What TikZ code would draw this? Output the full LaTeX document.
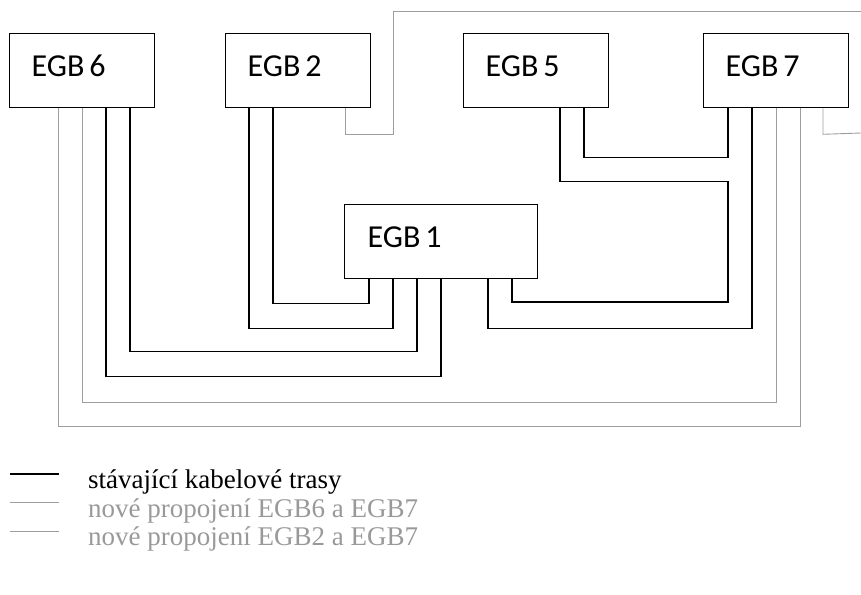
\documentclass[tikz,border=0pt]{standalone}
\usepackage{fontspec}
\setmainfont{Liberation Serif}
\newfontfamily\boxfont{Carlito}
\newcommand\egbfont{\boxfont\fontsize{32}{36}\selectfont}
\newcommand\egbtight{\spaceskip=5pt\relax}
\definecolor{newline}{gray}{0.62}
\definecolor{newtext}{gray}{0.6}
\tikzset{
  egbbox/.style={draw, line width=1.3pt, anchor=north west, minimum height=74pt,
    inner ysep=0pt, inner xsep=22pt, align=left, font=\egbfont,
    text height=21pt, text depth=10pt},
  oldcable/.style={draw, line width=1.3pt},
  newcable/.style={draw=newline, line width=0.9pt},
  legtext/.style={anchor=base west, inner sep=0pt, font=\fontsize{27}{30}\selectfont},
}
\begin{document}
\begin{tikzpicture}[x=1pt,y=-1pt]
\useasboundingbox (0,0) rectangle (861,594);
% boxes
\node[egbbox, text width=101pt] (e6) at (9,33) {\egbtight EGB 6};
\node[egbbox, text width=101pt] (e2) at (225,33) {\egbtight EGB 2};
\node[egbbox, text width=101pt] (e5) at (463,33) {\egbtight EGB 5};
\node[egbbox, text width=101pt] (e7) at (703,33) {\egbtight EGB 7};
\node[egbbox, text width=147pt, inner xsep=23pt] (e1) at (344,204) {\egbtight EGB 1};
% anchor points
\coordinate (e6a) at ([xshift=49pt]e6.south west);
\coordinate (e6b) at ([xshift=73pt]e6.south west);
\coordinate (e6c) at ([xshift=97pt]e6.south west);
\coordinate (e6d) at ([xshift=121pt]e6.south west);
\coordinate (e2a) at ([xshift=24pt]e2.south west);
\coordinate (e2b) at ([xshift=48pt]e2.south west);
\coordinate (e2c) at ([xshift=120pt]e2.south west);
\coordinate (e5a) at ([xshift=97pt]e5.south west);
\coordinate (e5b) at ([xshift=121pt]e5.south west);
\coordinate (e7a) at ([xshift=25pt]e7.south west);
\coordinate (e7b) at ([xshift=49pt]e7.south west);
\coordinate (e7c) at ([xshift=73pt]e7.south west);
\coordinate (e7d) at ([xshift=97pt]e7.south west);
\coordinate (e7e) at ([xshift=120pt]e7.south west);
\coordinate (e1a) at ([xshift=25pt]e1.south west);
\coordinate (e1b) at ([xshift=49pt]e1.south west);
\coordinate (e1c) at ([xshift=73pt]e1.south west);
\coordinate (e1d) at ([xshift=97pt]e1.south west);
\coordinate (e1e) at ([xshift=144pt]e1.south west);
\coordinate (e1f) at ([xshift=168pt]e1.south west);
\coordinate (outtop) at (861,11);
\coordinate (outmid) at (861,133);
% existing cables
\draw[oldcable] (e6c) -- ++(0,268) -| (e1d);
\draw[oldcable] (e6d) -- ++(0,243) -| (e1c);
\draw[oldcable] (e2a) -- ++(0,220) -| (e1b);
\draw[oldcable] (e2b) -- ++(0,195) -| (e1a);
\draw[oldcable] (e5a) -- ++(0,73) -- ++(168,0) |- (e1f |- 0,302) -- (e1f);
\draw[oldcable] (e5b) -- ++(0,49) -| (e7a);
\draw[oldcable] (e7b) -- ++(0,220) -| (e1e);
% new EGB6 - EGB7
\draw[newcable] (e6b) -- ++(0,294) -| (e7c);
\draw[newcable] (e6a) -- ++(0,318) -| (e7d);
% new EGB2 - EGB7
\draw[newcable] (e2c) -- ++(0,26) -- ++(48,0) |- (outtop);
\draw[newcable] (e7e) -- ++(0,26) -- (outmid);
% legend
\draw[oldcable] (10,474) -- (59,474);
\draw[newcable] (10,502) -- (59,502);
\draw[newcable] (10,531) -- (59,531);
\node[legtext] (l1) at (88,488) {stávající kabelové trasy};
\node[legtext, text=newtext] (l2) at (88,517) {nové propojení EGB6 a EGB7};
\node[legtext, text=newtext] (l3) at (88,545) {nové propojení EGB2 a EGB7};
\end{tikzpicture}
\end{document}
